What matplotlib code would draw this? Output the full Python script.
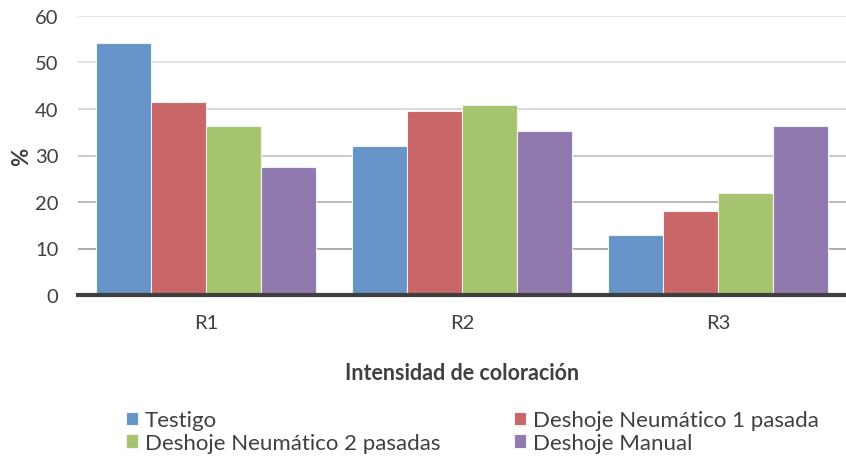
import matplotlib
matplotlib.use("Agg")
import matplotlib.pyplot as plt
import numpy as np

plt.rcParams["font.family"] = ["Lato", "DejaVu Sans"]

categories = ["R1", "R2", "R3"]
series_names = ["Testigo", "Deshoje Neumático 1 pasada",
                "Deshoje Neumático 2 pasadas", "Deshoje Manual"]
testigo = [54.2, 32.0, 12.9]
neum_1 = [41.5, 39.6, 18.1]
neum_2 = [36.3, 40.9, 21.9]
manual = [27.5, 35.3, 36.3]
y_ticks = [0, 10, 20, 30, 40, 50, 60]

colors = ["#6693C8", "#C96667", "#A6C46D", "#9079AF"]

fig = plt.figure(figsize=(8.46, 4.60), dpi=100)
ax = fig.add_axes([78 / 846, 1 - 296 / 460, 1 - 78 / 846, (296 - 17) / 460])

x = np.arange(len(categories))
w = 0.215
bars = []
for k, (vals, name, c) in enumerate(zip([testigo, neum_1, neum_2, manual], series_names, colors)):
    b = ax.bar(x + (k - 1.5) * w, vals, w, color=c, edgecolor="#EEF2F6", linewidth=0.8,
               label=name, zorder=3)
    bars.append(b)

ax.set_xlim(-0.5, 2.5)
ax.set_ylim(0, 60)
ax.set_yticks(y_ticks)
ax.set_xticks(x)
ax.set_xticklabels(categories)
ax.tick_params(axis="both", length=0, labelsize=14.5, colors="#404040")
ax.tick_params(axis="x", pad=14)
ax.tick_params(axis="y", pad=14)

ax.yaxis.grid(True, linewidth=1.3, zorder=0)
grid_cols = ["#444444", "#A8A8A8", "#B4B4B4", "#C6C6C6", "#D6D6D6", "#E0E0E0", "#E4E4E4"]
for gl, gc in zip(ax.get_ygridlines(), grid_cols):
    gl.set_color(gc)
ax.set_axisbelow(True)

for s in ["top", "right", "left"]:
    ax.spines[s].set_visible(False)
ax.spines["bottom"].set_color("#3F3F3F")
ax.spines["bottom"].set_linewidth(3)
ax.spines["bottom"].set_zorder(4)

ax.set_ylabel("%", fontsize=16, fontweight="bold", color="#404040", labelpad=2)
ax.set_xlabel("Intensidad de coloración", fontsize=15.5, fontweight="bold",
              color="#404040", labelpad=22)

# row-major order like the original legend
order = [0, 2, 1, 3]
fig.legend([bars[i] for i in order], [series_names[i] for i in order],
           loc="lower left", bbox_to_anchor=(106 / 846, -0.03), ncol=2, frameon=False,
           fontsize=16, handlelength=0.55, handleheight=0.55, handletextpad=0.3,
           columnspacing=3.3, labelspacing=0.12, labelcolor="#404040")

fig.savefig("out.png", dpi=100)
